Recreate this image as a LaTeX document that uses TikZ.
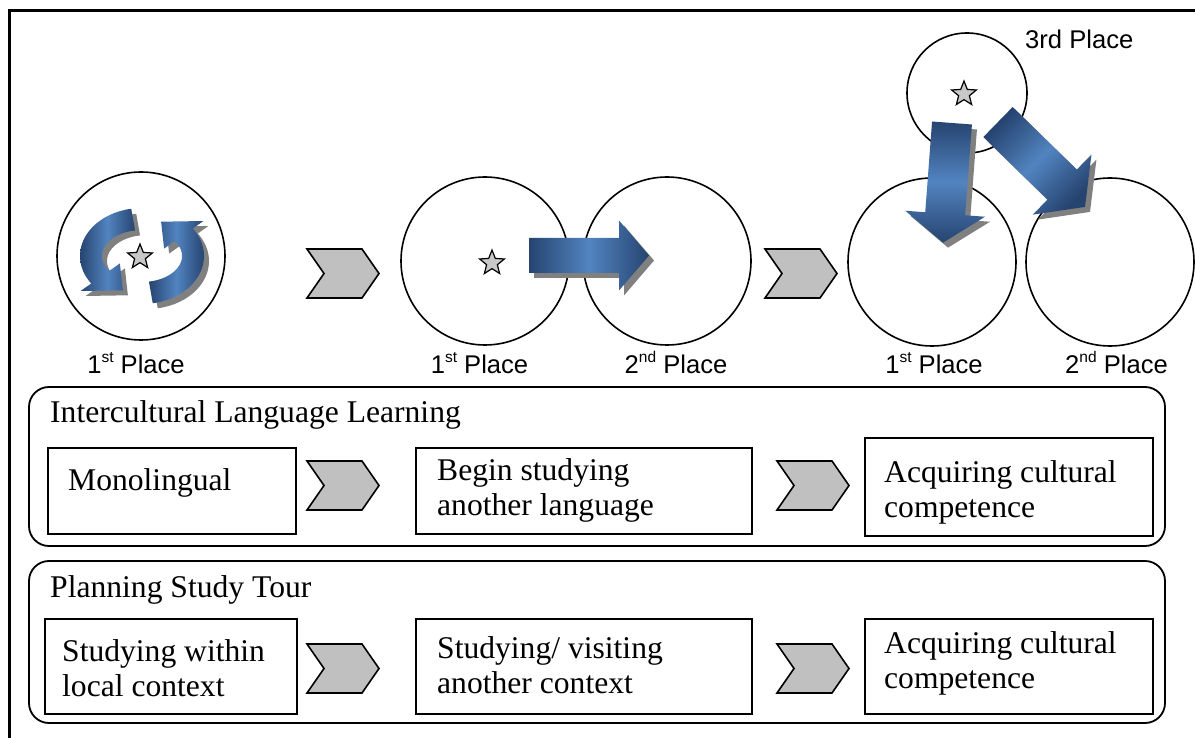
\documentclass[tikz,border=0pt]{standalone}
\usepackage{fontspec}
\setmainfont{Liberation Serif}
\newfontfamily\arialfont{Liberation Sans}
\usetikzlibrary{shapes.geometric}
\definecolor{arrdark}{RGB}{38,68,112}
\definecolor{arrlight}{RGB}{82,132,192}
\definecolor{shadowgray}{RGB}{128,128,128}
\definecolor{chevgray}{RGB}{192,192,192}
\definecolor{stargray}{RGB}{200,200,200}
\newcommand\sups[1]{\raisebox{10.5pt}{\fontsize{15.5}{16}\selectfont #1}}
\newcommand\twoline[2]{\begin{tabular}[t]{@{}l@{}}#1\\#2\end{tabular}}
% fat block arrow: tail, angle, length, body half width, head half width, head length, shading
\newcommand\fatarrow[7]{%
  \fill[shadowgray, shift={(5,5)}, shift={#1}, rotate=#2] (0,-#4) -- ({#3-#6},-#4) -- ({#3-#6},-#5) -- (#3,0) -- ({#3-#6},#5) -- ({#3-#6},#4) -- (0,#4) -- cycle;
  \shade[#7, shift={#1}, rotate=#2] (0,-#4) -- ({#3-#6},-#4) -- ({#3-#6},-#5) -- (#3,0) -- ({#3-#6},#5) -- ({#3-#6},#4) -- (0,#4) -- cycle;
}
% curled arrow around the first place: tail angle, head base angle, tip angle
\newcommand\curlarrow[3]{%
  \fill[shadowgray, shift={(5,5)}] plot[domain=#1:#2, samples=40] ({142+62*cos(\x)},{256-48*sin(\x)}) -- ({142+75*cos(#2)},{256-61*sin(#2)}) -- ({142+51*cos(#3)},{256-37*sin(#3)}) -- ({142+27*cos(#2)},{256-13*sin(#2)}) -- plot[domain=#2:#1, samples=40] ({142+40*cos(\x)},{256-26*sin(\x)}) -- cycle;
  \shade[left color=arrdark, right color=arrdark, middle color=arrlight] plot[domain=#1:#2, samples=40] ({142+62*cos(\x)},{256-48*sin(\x)}) -- ({142+75*cos(#2)},{256-61*sin(#2)}) -- ({142+51*cos(#3)},{256-37*sin(#3)}) -- ({142+27*cos(#2)},{256-13*sin(#2)}) -- plot[domain=#2:#1, samples=40] ({142+40*cos(\x)},{256-26*sin(\x)}) -- cycle;
}
\newcommand\chevron[3]{%
  \coordinate (#1) at (#2,#3);
  \draw[chevstyle] (#1) -- ++(55,0) -- ++(17,24.5) -- ++(-17,24.5) -- ++(-55,0) -- ++(17,-24.5) -- cycle;
}
\tikzset{
  ring/.style={circle, draw, line width=1.6pt, inner sep=0pt},
  startag/.style={star, star points=5, star point ratio=2.3, draw, line width=1.2pt, fill=stargray, minimum size=26pt, inner sep=0pt},
  placelabel/.style={font=\arialfont\fontsize{25.6}{30}\selectfont, anchor=base, inner sep=0pt},
  chevstyle/.style={draw, line width=1.6pt, fill=chevgray, line join=miter},
  panel/.style={draw, rounded corners=20pt, line width=1.8pt, inner sep=0pt},
  stagebox/.style={draw, line width=1.6pt, inner sep=0pt},
  boxtext/.style={font=\fontsize{31.6}{35}\selectfont, anchor=base west, inner sep=0pt},
}
\begin{document}
\begin{tikzpicture}[x=1pt, y=-1pt]
\useasboundingbox (0,0) rectangle (1195,738);
% frame (top and left)
\coordinate (frBL) at (9,738);
\coordinate (frTL) at (9,11);
\coordinate (frTR) at (1195,11);
\draw[line width=3pt] (frBL) -- (frTL) -- (frTR);

% circles
\node[ring, minimum size=168pt] (c1) at (141,256) {};
\node[ring, minimum size=168pt] (c2) at (485,261) {};
\node[ring, minimum size=168pt] (c3) at (667,261) {};
\node[ring, minimum size=168pt] (c4) at (932,262) {};
\node[ring, minimum size=168pt] (c5) at (1110,262) {};
\node[ring, minimum size=120pt] (c6) at (967,93) {};

% stars
\node[startag] (s1) at (140,257) {};
\node[startag] (s2) at (492,263) {};
\node[startag] (s6) at (964,94) {};

% curled arrows in first place
\curlarrow{100}{215}{248}
\curlarrow{280}{395}{428}

% block arrows
\fatarrow{(529,255.5)}{0}{120}{17.5}{35}{30}{left color=arrdark, right color=arrdark, middle color=arrlight}
\fatarrow{(952,123)}{-94.3}{120}{20}{40}{29}{top color=arrdark, bottom color=arrdark, middle color=arrlight}
\fatarrow{(998,122)}{-44.3}{121.6}{21}{42}{32}{left color=arrdark, right color=arrdark, middle color=arrlight, shading angle=45}

% chevrons between places
\chevron{chA}{307}{249}
\chevron{chB}{765}{249}

% place labels
\node[placelabel] (l1) at (136,373) {1\sups{st} Place};
\node[placelabel] (l2) at (479.5,373) {1\sups{st} Place};
\node[placelabel] (l3) at (676,373) {2\sups{nd} Place};
\node[placelabel] (l4) at (934,373) {1\sups{st} Place};
\node[placelabel] (l5) at (1116.5,373) {2\sups{nd} Place};
\node[placelabel, anchor=base west] (l6) at (1025,49) {3rd Place};

% panel 1
\node[panel, minimum width=1136pt, minimum height=159pt] (p1) at (597,466.5) {};
\node[boxtext] (p1t) at (50,422) {Intercultural Language Learning};
\node[stagebox, minimum width=248pt, minimum height=86pt] (bA) at (172,491) {};
\node[stagebox, minimum width=336pt, minimum height=86pt] (bB) at (584,491) {};
\node[stagebox, minimum width=288pt, minimum height=98pt] (bC) at (1009,487) {};
\node[boxtext] (tA) at (68,490) {Monolingual};
\node[boxtext] (tB) at (437,480) {\twoline{Begin studying}{another language}};
\node[boxtext] (tC) at (884,482) {\twoline{Acquiring cultural}{competence}};
\chevron{chC}{307}{461}
\chevron{chD}{777}{461}

% panel 2
\node[panel, minimum width=1136pt, minimum height=162pt] (p2) at (597,642) {};
\node[boxtext] (p2t) at (50,597) {Planning Study Tour};
\node[stagebox, minimum width=252pt, minimum height=95pt] (bD) at (171,666.5) {};
\node[stagebox, minimum width=336pt, minimum height=95pt] (bE) at (584,666.5) {};
\node[stagebox, minimum width=288pt, minimum height=95pt] (bF) at (1009,666.5) {};
\node[boxtext] (tD) at (62,661) {\twoline{Studying within}{local context}};
\node[boxtext] (tE) at (437,658) {\twoline{Studying/ visiting}{another context}};
\node[boxtext] (tF) at (884,653) {\twoline{Acquiring cultural}{competence}};
\chevron{chE}{307}{644}
\chevron{chF}{777}{644}
\end{tikzpicture}
\end{document}
